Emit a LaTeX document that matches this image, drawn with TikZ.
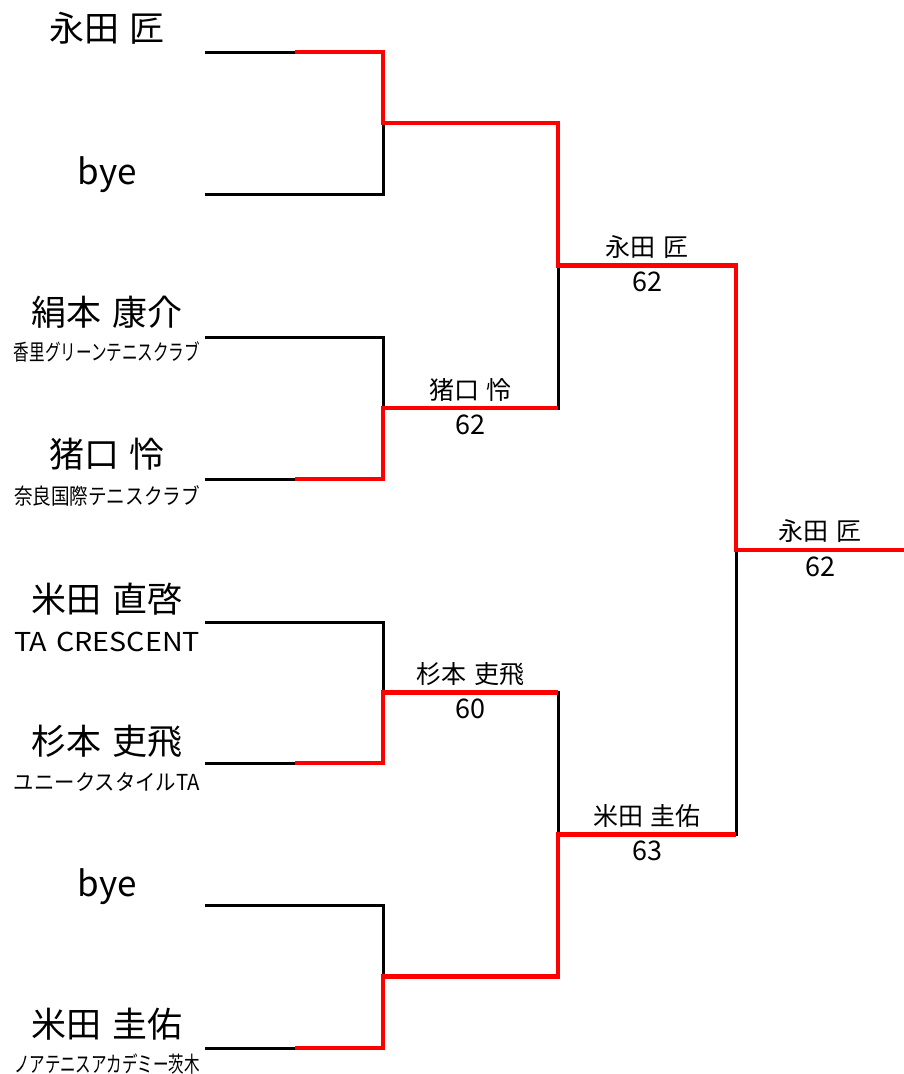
\documentclass[tikz,border=0pt]{standalone}
\usepackage{fontspec}
\usepackage{graphicx}
\setmainfont{Noto Sans CJK JP}[WordSpace=1.4]
\definecolor{winred}{HTML}{FF0000}

% club names are squeezed to one width
\newcommand\club[2][22]{\resizebox{186pt}{\height}{\fontsize{#1pt}{#1pt}\selectfont #2}}

\begin{document}
\begin{tikzpicture}[x=1pt,y=-1pt,
		bline/.style={line width=3pt,black},
		wline/.style={line width=4.5pt,winred},
		player/.style={font=\fontsize{35pt}{35pt}\selectfont,inner sep=0pt},
		team/.style={inner sep=0pt},
		who/.style={font=\fontsize{25pt}{25pt}\selectfont,inner sep=0pt,yshift=18.5pt},
		score/.style={font=\fontsize{27pt}{27pt}\selectfont,inner sep=0pt,yshift=-16.5pt}]
			\useasboundingbox (0,0) rectangle (904,1074);
			\foreach\i/\y in {1/52,2/194,3/337,4/479,5/622,6/763,7/905,8/1048} \coordinate (p\i) at (205,\y);
			\coordinate (cut) at (295,0);
			\coordinate (m1) at (383,123);
			\coordinate (m2) at (383,408);
			\coordinate (m3) at (383,692.5);
			\coordinate (m4) at (383,976.5);
			\coordinate (s1) at (558,265.5);
			\coordinate (s2) at (558,834.5);
			\coordinate (f) at (736,550);
			\coordinate (end) at (904,550);
			% black bracket
			\foreach\a/\b/\m in {p1/p2/m1,p3/p4/m2,p5/p6/m3,p7/p8/m4,m1/m2/s1,m3/m4/s2,s1/s2/f}
				\draw[bline] (\a) -- (\a -| \m) -- (\b -| \m) -- (\b);
			\draw[bline] (f) -- (end);
			% winners in red
			\draw[wline] (p1 -| cut) -| (m1) -| (s1) -| (f) -- (end);
			\draw[wline] (p4 -| cut) -| (m2) -- (m2 -| s1);
			\draw[wline] (p6 -| cut) -| (m3) -- (m3 -| s1);
			\draw[wline] (p8 -| cut) -| (m4) -| (s2) -- (s2 -| f);
			% players
			\node[player] (n1) at (107,28) {永田 匠};
			\node[player] (n2) at (107,175) {bye};
			\node[player] (n3) at (107,312) {絹本 康介};
			\node[team] (c3) at (107,352) {\club{香里グリーンテニスクラブ}};
			\node[player] (n4) at (107,454) {猪口 怜};
			\node[team] (c4) at (107,496) {\club{奈良国際テニスクラブ}};
			\node[player] (n5) at (107,599) {米田 直啓};
			\node[team] (c5) at (107,642) {\club[26]{TA CRESCENT}};
			\node[player] (n6) at (107,741) {杉本 吏飛};
			\node[team] (c6) at (107,782) {\club{ユニークスタイルTA}};
			\node[player] (n7) at (107,887) {bye};
			\node[player] (n8) at (107,1024) {米田 圭佑};
			\node[team] (c8) at (107,1064) {\club{ノアテニスアカデミー茨木}};
			% results
			\path (m2) -- (m2 -| s1) node[who,midway] (w2) {猪口 怜} node[score,midway] (r2) {62};
			\path (m3) -- (m3 -| s1) node[who,midway] (w3) {杉本 吏飛} node[score,midway] (r3) {60};
			\path (s1) -- (s1 -| f) node[who,midway] (w5) {永田 匠} node[score,midway] (r5) {62};
			\path (s2) -- (s2 -| f) node[who,midway] (w6) {米田 圭佑} node[score,midway] (r6) {63};
			\path (f) -- (end) node[who,midway] (w7) {永田 匠} node[score,midway] (r7) {62};
		\end{tikzpicture}
\end{document}
